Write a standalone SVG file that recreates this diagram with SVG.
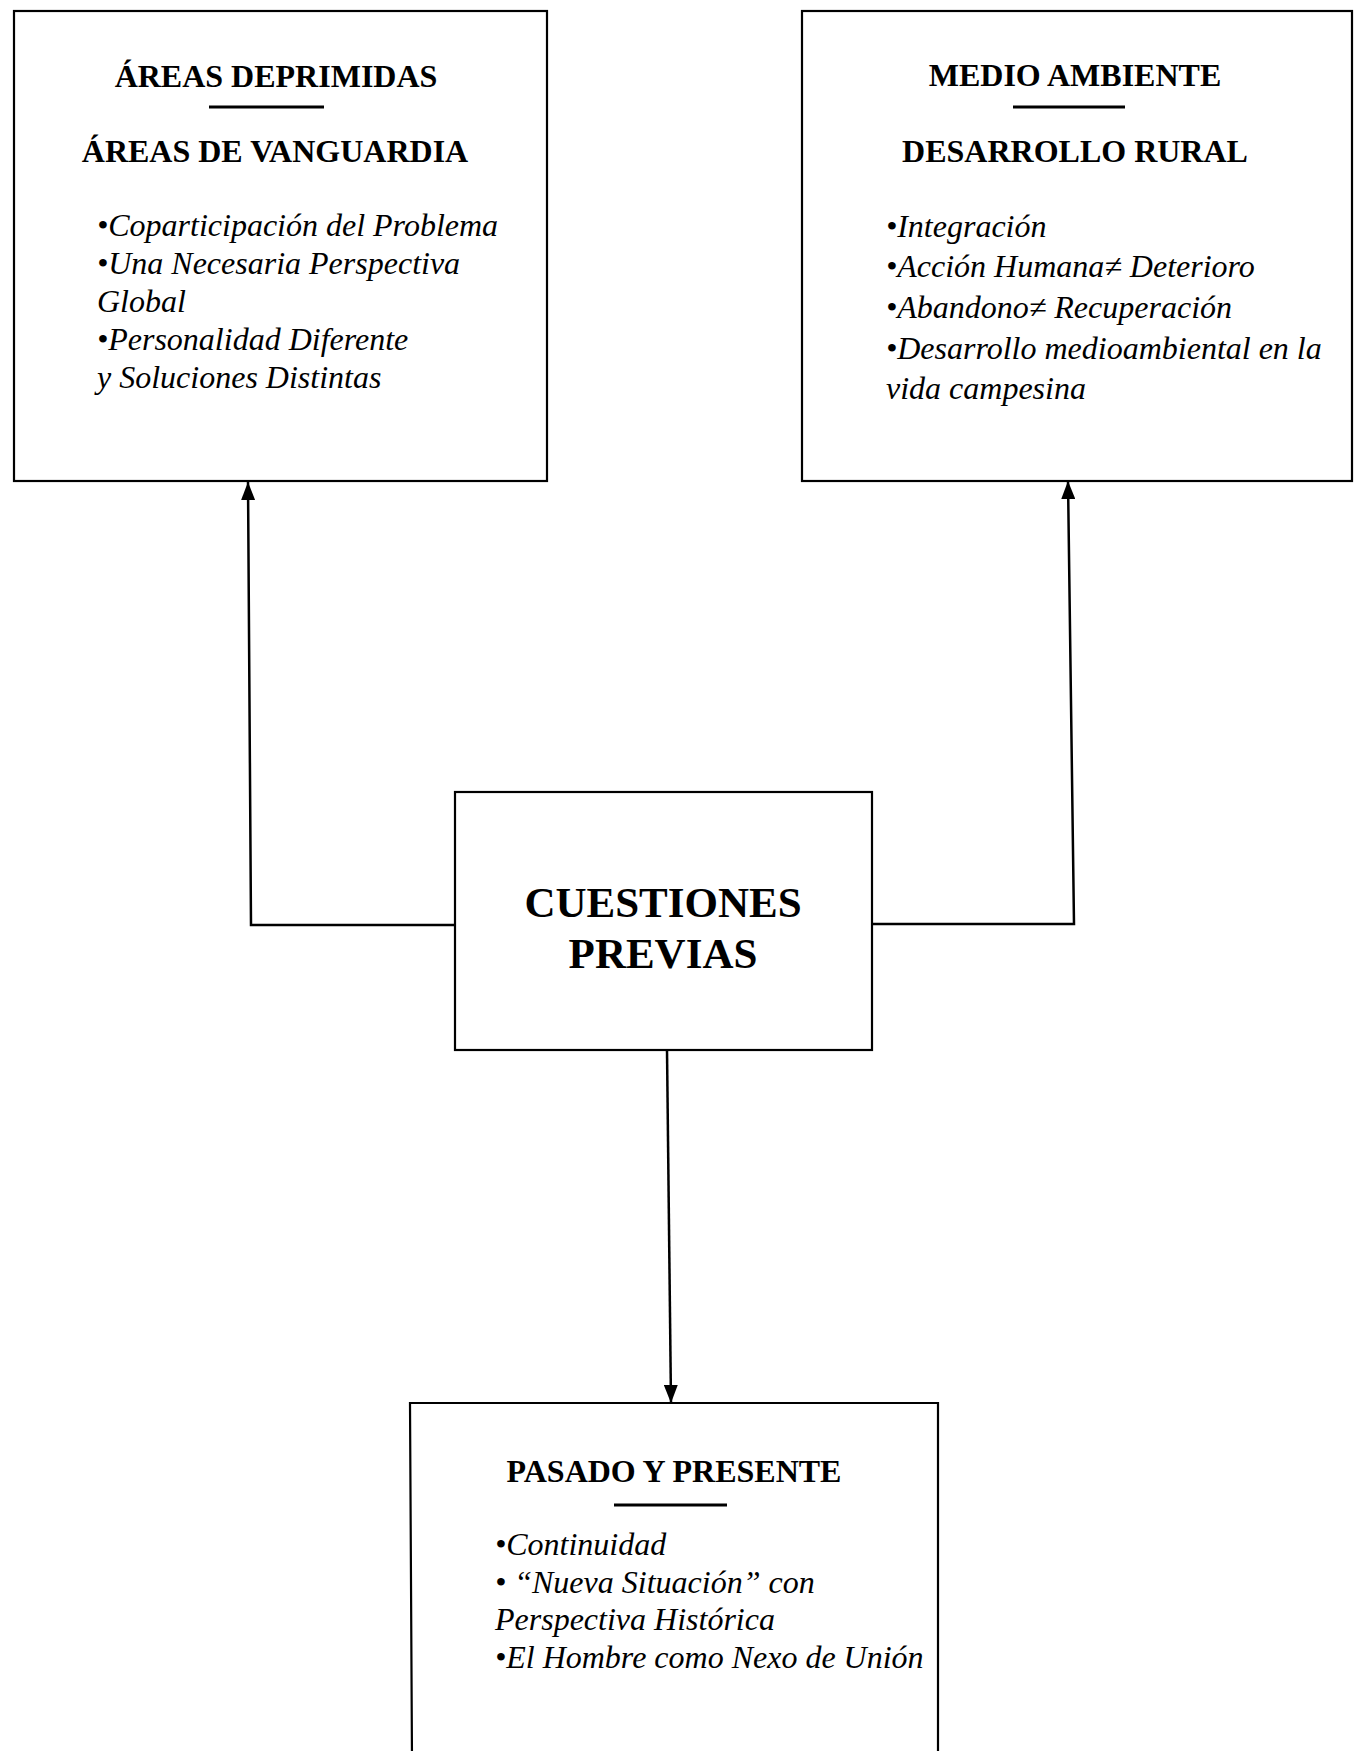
<svg xmlns="http://www.w3.org/2000/svg" width="1356" height="1751" viewBox="0 0 1356 1751">
<style>
.box{fill:#fff;stroke:#000;stroke-width:2.2}
.h{font-family:"Liberation Serif","Times New Roman",serif;font-weight:bold;font-size:32px;text-anchor:middle;fill:#000}
.big{font-family:"Liberation Serif","Times New Roman",serif;font-weight:bold;font-size:43px;text-anchor:middle;fill:#000}
.it{font-family:"Liberation Serif","Times New Roman",serif;font-style:italic;font-size:32px;fill:#000}
.sep{stroke:#000;stroke-width:3}
.con{fill:none;stroke:#000;stroke-width:2.5}
</style>
<defs>
<marker id="ah" markerWidth="18" markerHeight="14" refX="18" refY="7" viewBox="0 0 18 14" markerUnits="userSpaceOnUse" orient="auto">
<path d="M0,0 L18,7 L0,14 Z" fill="#000"/>
</marker>
</defs>
<rect width="1356" height="1751" fill="#fff"/>
<g id="node-areas">
<rect class="box" x="14" y="11" width="533" height="470"/>
<text class="h" x="276" y="87">ÁREAS DEPRIMIDAS</text>
<line class="sep" x1="209" y1="107" x2="324" y2="107"/>
<text class="h" x="275" y="162">ÁREAS DE VANGUARDIA</text>
<text class="it" x="97" y="236">•Coparticipación del Problema</text>
<text class="it" x="97" y="274">•Una Necesaria Perspectiva</text>
<text class="it" x="97" y="312">Global</text>
<text class="it" x="97" y="350">•Personalidad Diferente</text>
<text class="it" x="97" y="388">y Soluciones Distintas</text>
</g>
<g id="node-medio">
<rect class="box" x="802" y="11" width="550" height="470"/>
<text class="h" x="1075" y="86">MEDIO AMBIENTE</text>
<line class="sep" x1="1013" y1="107" x2="1125" y2="107"/>
<text class="h" x="1075" y="162">DESARROLLO RURAL</text>
<text class="it" x="886" y="237">•Integración</text>
<text class="it" x="886" y="277">•Acción Humana≠ Deterioro</text>
<text class="it" x="886" y="318">•Abandono≠ Recuperación</text>
<text class="it" x="886" y="359">•Desarrollo medioambiental en la</text>
<text class="it" x="886" y="399">vida campesina</text>
</g>
<g id="node-cuestiones">
<rect class="box" x="455" y="792" width="417" height="258"/>
<text class="big" x="663" y="917">CUESTIONES</text>
<text class="big" x="663" y="968">PREVIAS</text>
</g>
<g id="node-pasado">
<path class="box" d="M412,1760 L410,1403 L938,1403 L938,1760"/>
<text class="h" x="674" y="1482">PASADO Y PRESENTE</text>
<line class="sep" x1="614" y1="1505" x2="727" y2="1505"/>
<text class="it" x="495" y="1555">•Continuidad</text>
<text class="it" x="495" y="1593">• “Nueva Situación” con</text>
<text class="it" x="495" y="1630">Perspectiva Histórica</text>
<text class="it" x="495" y="1668">•El Hombre como Nexo de Unión</text>
</g>
<g id="connectors">
<path class="con" d="M455,925 L251,925 L248,482" marker-end="url(#ah)"/>
<path class="con" d="M872,924 L1074,924 L1068,481" marker-end="url(#ah)"/>
<path class="con" d="M667,1050 L671,1403" marker-end="url(#ah)"/>
</g>
</svg>
